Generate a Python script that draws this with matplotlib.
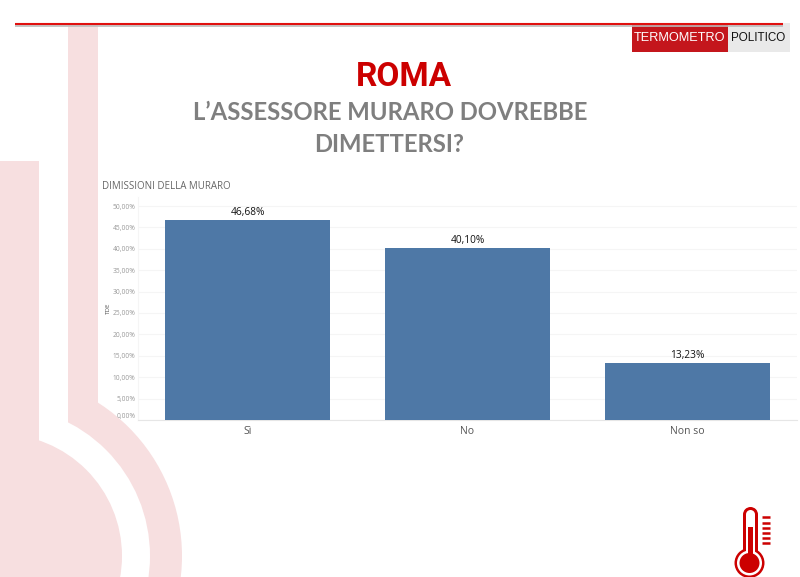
import matplotlib
matplotlib.use('Agg')
import matplotlib.pyplot as plt
from matplotlib.patches import Rectangle, Circle, Wedge

categories = ['Sì', 'No', 'Non so']
values = [46.68, 40.10, 13.23]
value_labels = ['46,68%', '40,10%', '13,23%']
y_ticks = [0, 5, 10, 15, 20, 25, 30, 35, 40, 45, 50]
y_tick_labels = ['0,00%', '5,00%', '10,00%', '15,00%', '20,00%', '25,00%',
                 '30,00%', '35,00%', '40,00%', '45,00%', '50,00%']

W, H = 800, 577
PINK = '#f7dfe0'
RED = '#cc0000'

plt.rcParams['font.family'] = ['Open Sans', 'DejaVu Sans']

fig = plt.figure(figsize=(W / 100, H / 100), dpi=100)

# background layer in pixel coordinates
bg = fig.add_axes([0, 0, 1, 1])
bg.set_xlim(0, W)
bg.set_ylim(H, 0)
bg.axis('off')

# big pale thermometer
bg.add_patch(Rectangle((0, 161), 39, 290, color=PINK, lw=0))
bg.add_patch(Circle((0, 556), 122, color=PINK, lw=0))
bg.add_patch(Rectangle((68, 25), 30, 392, color=PINK, lw=0))
ring = Wedge((0, 556), 182, -90, 90, width=32, color=PINK, lw=0)
bg.add_patch(ring)
ring.set_clip_path(Rectangle((68, 0), W, H, transform=bg.transData))

# top rule
bg.plot([15, 783], [25.5, 25.5], color='#bbbbbb', lw=1.2, solid_capstyle='butt')
bg.plot([15, 783], [24.2, 24.2], color='#e0100f', lw=1.5, solid_capstyle='butt')

# logo
bg.add_patch(Rectangle((727, 23), 63, 29, color='#e9e9e9', lw=0))
bg.add_patch(Rectangle((632, 23), 96, 29, color='#c4161c', lw=0))
bg.text(680, 38, 'TERMOMETRO', color='white', fontsize=9.2, ha='center', va='center',
        family=['Liberation Sans', 'DejaVu Sans'])
bg.text(758.5, 38, 'POLITICO', color='#111111', fontsize=8.4, ha='center', va='center',
        family=['Liberation Sans', 'DejaVu Sans'])

# small thermometer icon
bg.add_patch(Circle((750.5, 514.5), 7.5, color=RED, lw=0))
bg.add_patch(Rectangle((743, 514.5), 15, 40, color=RED, lw=0))
bg.add_patch(Circle((749.5, 563), 15, color=RED, lw=0))
bg.add_patch(Circle((750.5, 514.5), 4.5, color='white', lw=0))
bg.add_patch(Rectangle((746, 514.5), 9, 40, color='white', lw=0))
bg.add_patch(Circle((749.5, 563), 12.5, color='white', lw=0))
bg.add_patch(Circle((749.5, 563), 10, color=RED, lw=0))
bg.add_patch(Rectangle((748, 527), 5, 28, color=RED, lw=0))
for y in [517, 522.5, 528, 533, 538, 543]:
    bg.plot([762, 770], [y, y], color=RED, lw=1.8, solid_capstyle='butt')

# headings
bg.text(403.5, 77, 'ROMA', color=RED, fontsize=24, fontweight='bold', ha='center', va='center',
        family=['Roboto', 'DejaVu Sans'])
bg.text(390, 112, 'L’ASSESSORE MURARO DOVREBBE', color='#7f7f7f', fontsize=17.2, fontweight='bold',
        ha='center', va='center', family=['Lato', 'DejaVu Sans'])
bg.text(389, 144, 'DIMETTERSI?', color='#7f7f7f', fontsize=17.2, fontweight='bold',
        ha='center', va='center', family=['Lato', 'DejaVu Sans'])
bg.text(102, 186.5, 'DIMISSIONI DELLA MURARO', color='#666666', fontsize=7, ha='left', va='center')

# chart
top_px, bottom_px = 197, 420
ax = fig.add_axes([138 / W, 1 - bottom_px / H, (797 - 138) / W, (bottom_px - top_px) / H])
ax.patch.set_alpha(0)
ax.bar(categories, values, width=0.75, color='#4e78a6', zorder=3)
ax.set_xlim(-0.5, 2.5)
ax.set_ylim(0, (bottom_px - top_px) / 4.28)
ax.set_yticks(y_ticks)
ax.set_yticklabels(y_tick_labels)
ax.yaxis.grid(True, color='#f5f5f5', lw=0.8, zorder=0)
ax.tick_params(axis='both', length=0)
ax.tick_params(axis='y', labelsize=4.8, labelcolor='#999999', pad=2)
ax.tick_params(axis='x', labelsize=7.5, labelcolor='#555555', pad=4)
ax.get_yticklabels()[0].set_va('bottom')
for s in ['top', 'right']:
    ax.spines[s].set_visible(False)
ax.spines['left'].set_color('#f5f5f5')
ax.spines['bottom'].set_color('#e6e6e6')
ax.set_ylabel('TDE', fontsize=4.5, color='#555555')
ax.yaxis.set_label_coords(-0.041, 0.5)

for i, v in enumerate(values):
    ax.text(i, v + 0.6, value_labels[i], ha='center', va='bottom', fontsize=7.3, fontweight='medium', color='#111111')

fig.savefig('out.png', dpi=100)
